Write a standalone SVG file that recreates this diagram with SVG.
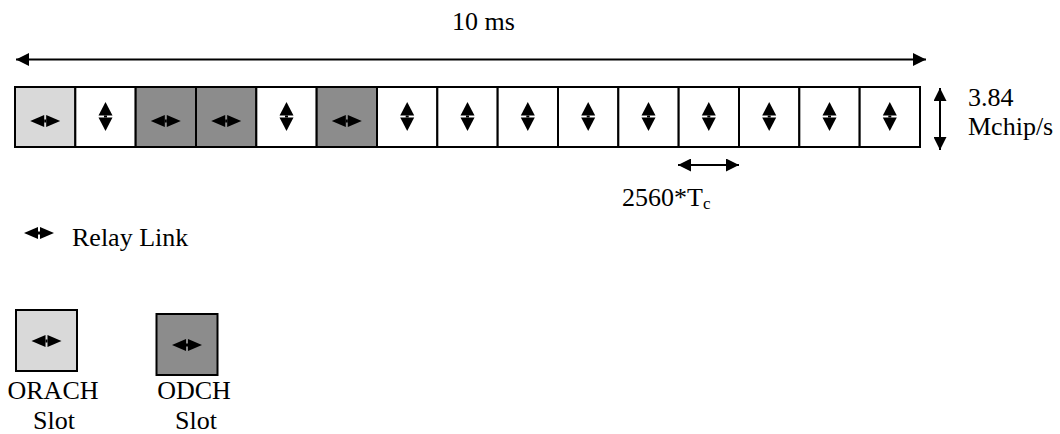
<svg xmlns="http://www.w3.org/2000/svg" width="1060" height="434" viewBox="0 0 1060 434">
<style>
.t{font-family:'Liberation Serif','Times New Roman',Times,serif;font-size:26px;fill:#000}
.slot{stroke:#000;stroke-width:2}
.w{fill:#fff}.lg{fill:#d9d9d9}.dg{fill:#8c8c8c}
.ln{stroke:#000;stroke-width:2;fill:none}
</style>
<defs>
<g id="h">
<polygon points="-15,0 -1,-6 -1,6" fill="#000"/>
<polygon points="15,0 1,-6 1,6" fill="#000"/>
<rect x="-1" y="-1.5" width="2" height="3" fill="#000"/>
</g>
<g id="v">
<polygon points="0,-14.5 -7,-1 7,-1" fill="#000"/>
<polygon points="0,14.5 -7,1 7,1" fill="#000"/>
<rect x="-1.5" y="-1" width="3" height="2" fill="#000"/>
</g>
<marker id="ah" viewBox="0 0 10 10" refX="10" refY="5" markerWidth="7" markerHeight="6.5" markerUnits="strokeWidth" orient="auto-start-reverse">
<path d="M0,0 L10,5 L0,10 z" fill="#000"/>
</marker>
</defs>
<g id="connectors">
<line class="ln" x1="16" y1="59.5" x2="926" y2="59.5" marker-start="url(#ah)" marker-end="url(#ah)"/>
<line class="ln" x1="940" y1="88" x2="940" y2="150" marker-start="url(#ah)" marker-end="url(#ah)"/>
<line class="ln" x1="678" y1="165" x2="739" y2="165" marker-start="url(#ah)" marker-end="url(#ah)"/>
</g>
<text class="t" x="452" y="30" font-family="Liberation Serif, serif">10 ms</text>
<g id="frame">
<rect class="slot lg" x="15" y="87" width="60.33" height="60"/>
<rect class="slot w" x="75.33" y="87" width="60.33" height="60"/>
<rect class="slot dg" x="135.67" y="87" width="60.33" height="60"/>
<rect class="slot dg" x="196" y="87" width="60.33" height="60"/>
<rect class="slot w" x="256.33" y="87" width="60.33" height="60"/>
<rect class="slot dg" x="316.67" y="87" width="60.33" height="60"/>
<rect class="slot w" x="377" y="87" width="60.33" height="60"/>
<rect class="slot w" x="437.33" y="87" width="60.33" height="60"/>
<rect class="slot w" x="497.67" y="87" width="60.33" height="60"/>
<rect class="slot w" x="558" y="87" width="60.33" height="60"/>
<rect class="slot w" x="618.33" y="87" width="60.33" height="60"/>
<rect class="slot w" x="678.67" y="87" width="60.33" height="60"/>
<rect class="slot w" x="739" y="87" width="60.33" height="60"/>
<rect class="slot w" x="799.33" y="87" width="60.33" height="60"/>
<rect class="slot w" x="859.67" y="87" width="60.33" height="60"/>
<use href="#h" x="45.2" y="121"/>
<use href="#v" x="105.5" y="116.5"/>
<use href="#h" x="165.8" y="121"/>
<use href="#h" x="226.2" y="121"/>
<use href="#v" x="286.5" y="116.5"/>
<use href="#h" x="346.8" y="121"/>
<use href="#v" x="407.2" y="116.5"/>
<use href="#v" x="467.5" y="116.5"/>
<use href="#v" x="527.8" y="116.5"/>
<use href="#v" x="588.2" y="116.5"/>
<use href="#v" x="648.5" y="116.5"/>
<use href="#v" x="708.8" y="116.5"/>
<use href="#v" x="769.2" y="116.5"/>
<use href="#v" x="829.5" y="116.5"/>
<use href="#v" x="889.8" y="116.5"/>
</g>
<text class="t" x="968" y="106" font-family="Liberation Serif, serif">3.84</text>
<text class="t" x="968" y="135" font-family="Liberation Serif, serif">Mchip/s</text>
<text class="t" x="622" y="206" font-family="Liberation Serif, serif">2560*T<tspan font-size="17" dy="3">c</tspan></text>
<g id="legend-relay">
<use href="#h" x="39" y="233"/>
<text class="t" x="72" y="246" font-family="Liberation Serif, serif">Relay Link</text>
</g>
<g id="legend-orach">
<rect class="slot lg" x="16" y="310" width="61" height="61"/>
<use href="#h" x="46.5" y="341"/>
<text class="t" x="53" y="399" text-anchor="middle" font-family="Liberation Serif, serif">ORACH</text>
<text class="t" x="54" y="429" text-anchor="middle" font-family="Liberation Serif, serif">Slot</text>
</g>
<g id="legend-odch">
<rect class="slot dg" x="156.5" y="314" width="61" height="61"/>
<use href="#h" x="187" y="345"/>
<text class="t" x="194" y="399" text-anchor="middle" font-family="Liberation Serif, serif">ODCH</text>
<text class="t" x="196" y="429" text-anchor="middle" font-family="Liberation Serif, serif">Slot</text>
</g>
</svg>
